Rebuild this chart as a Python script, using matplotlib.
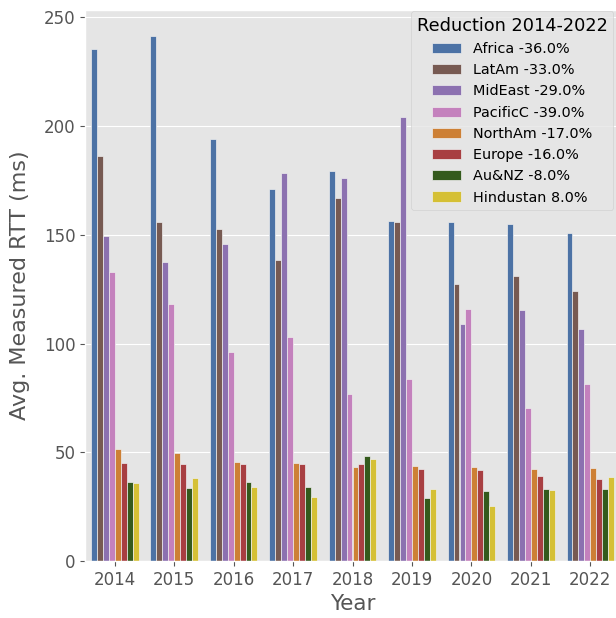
import numpy as np
import matplotlib
matplotlib.use("Agg")
import matplotlib.pyplot as plt

plt.style.use("ggplot")

years = ["2014", "2015", "2016", "2017", "2018", "2019", "2020", "2021", "2022"]
regions = ["Africa", "LatAm", "MidEast", "PacificC", "NorthAm", "Europe", "Au&NZ", "Hindustan"]
reductions = ["-36.0%", "-33.0%", "-29.0%", "-39.0%", "-17.0%", "-16.0%", "-8.0%", "8.0%"]
colors = ["#4c72a5", "#775a52", "#8c71b0", "#c481bd", "#cd8035", "#a83f42", "#345a1c", "#d5c035"]

# valori (ms), un array per regione
africa = [235.6, 241.3, 194.0, 171.1, 179.5, 156.3, 156.0, 154.9, 150.9]
latam = [186.1, 155.8, 152.9, 138.2, 167.1, 155.8, 127.6, 130.9, 124.3]
mideast = [149.5, 137.6, 145.9, 178.3, 176.3, 204.0, 108.9, 115.6, 106.6]
pacificc = [132.7, 118.2, 96.0, 102.9, 76.6, 83.6, 115.9, 70.5, 81.3]
northam = [51.4, 49.5, 45.6, 45.0, 43.4, 43.6, 43.0, 42.5, 42.7]
europe = [45.0, 44.5, 44.6, 44.5, 44.5, 42.1, 41.7, 39.3, 37.8]
aunz = [36.2, 33.8, 36.5, 34.1, 48.2, 29.0, 32.1, 33.0, 33.0]
hindustan = [35.8, 38.4, 34.1, 29.4, 47.1, 33.0, 25.2, 32.6, 38.5]

series = [africa, latam, mideast, pacificc, northam, europe, aunz, hindustan]

fig = plt.figure(figsize=(6.16, 6.18), dpi=100)
ax = fig.add_axes([85 / 616, 57 / 618, 535 / 616, 551 / 618])

x = np.arange(len(years))
n = len(regions)
w = 0.8 / n
for i, vals in enumerate(series):
    ax.bar(x - 0.4 + w * (i + 0.5), vals, width=w, color=colors[i],
           edgecolor="#eeeeee", linewidth=0.5,
           label=f"{regions[i]} {reductions[i]}")

ax.set_xlim(-0.5, len(years) - 0.5)
ax.set_ylim(0, 253.4)
ax.set_xticks(x)
ax.set_xticklabels(years)
ax.set_yticks([0, 50, 100, 150, 200, 250])
ax.tick_params(axis="both", labelsize=12)
ax.grid(axis="x", visible=False)
ax.set_xlabel("Year", fontsize=15.5)
ax.set_ylabel("Avg. Measured RTT (ms)", fontsize=16, labelpad=10)

leg = ax.legend(title="Reduction 2014-2022", loc="upper left",
                bbox_to_anchor=(411 / 616, 1 - 11 / 618), bbox_transform=fig.transFigure,
                borderaxespad=0, fontsize=10.4, title_fontsize=12.8)

fig.savefig("out.png", dpi=100)
